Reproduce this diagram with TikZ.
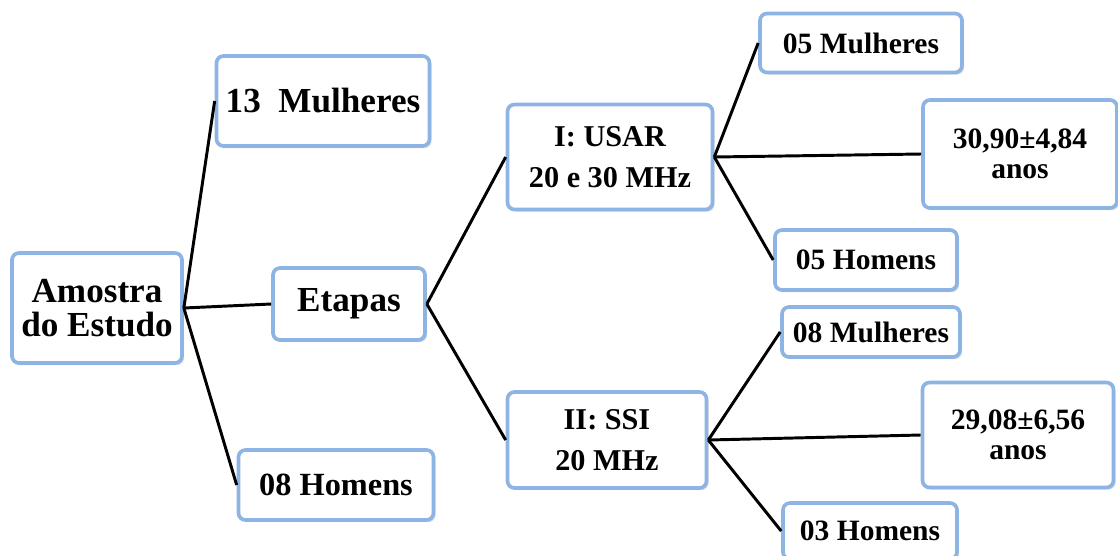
\documentclass[tikz,border=0pt]{standalone}
\usepackage{fontspec}
\setmainfont{Liberation Serif}
\usetikzlibrary{shadows}
\definecolor{boxblue}{RGB}{141,180,226}
\tikzset{
  caixa/.style={rectangle, draw=boxblue, line width=2.6pt, fill=white, rounded corners=5pt,
    align=center, inner sep=0pt, drop shadow={shadow xshift=1.5pt, shadow yshift=-1.5pt, fill=gray!50}},
  ramo/.style={line width=2.1pt}
}
\begin{document}
\begin{tikzpicture}[x=0.025cm, y=-0.025cm]
    \useasboundingbox (0,0) rectangle (1118,555);

    % ノード
    \node[caixa, minimum width=170*0.025cm, minimum height=110*0.025cm, font=\bfseries\fontsize{25}{24}\selectfont] (amostra) at (97,308) {Amostra\\do Estudo};
    \node[caixa, minimum width=213*0.025cm, minimum height=90*0.025cm, font=\bfseries\fontsize{25}{28}\selectfont] (mulheres) at (323,101) {13~~Mulheres};
    \node[caixa, minimum width=152*0.025cm, minimum height=72*0.025cm, font=\bfseries\fontsize{25}{28}\selectfont] (etapas) at (349,304) {Etapas};
    \node[caixa, minimum width=195*0.025cm, minimum height=70*0.025cm, font=\bfseries\fontsize{23}{28}\selectfont] (homens) at (336,485) {08 Homens};

    \node[caixa, minimum width=205*0.025cm, minimum height=105*0.025cm, font=\bfseries\fontsize{21.5}{29}\selectfont] (usar) at (610,157) {I: USAR\\20 e 30 MHz};
    \node[caixa, minimum width=199*0.025cm, minimum height=96*0.025cm, font=\bfseries\fontsize{21.5}{29}\selectfont] (ssi) at (607,440) {II: SSI\\20 MHz};

    \node[caixa, minimum width=202*0.025cm, minimum height=59*0.025cm, font=\bfseries\fontsize{21}{25}\selectfont] (usarm) at (861,43) {05 Mulheres};
    \node[caixa, minimum width=194*0.025cm, minimum height=108*0.025cm, font=\bfseries\fontsize{21}{21}\selectfont] (usari) at (1020,154) {30,90±4,84\\anos};
    \node[caixa, minimum width=182*0.025cm, minimum height=60*0.025cm, font=\bfseries\fontsize{21}{25}\selectfont] (usarh) at (866,260) {05 Homens};

    \node[caixa, minimum width=178*0.025cm, minimum height=50*0.025cm, font=\bfseries\fontsize{21}{25}\selectfont] (ssim) at (871,332) {08 Mulheres};
    \node[caixa, minimum width=191*0.025cm, minimum height=105*0.025cm, font=\bfseries\fontsize{21}{21}\selectfont] (ssii) at (1018,435) {29,08±6,56\\anos};
    \node[caixa, minimum width=174*0.025cm, minimum height=56*0.025cm, font=\bfseries\fontsize{21}{25}\selectfont] (ssih) at (870,531) {03 Homens};

    % 枝
    \draw[ramo] (amostra.east) -- (mulheres.west);
    \draw[ramo] (amostra.east) -- (etapas.west);
    \draw[ramo] (amostra.east) -- (homens.west);
    \draw[ramo] (etapas.east) -- (usar.west);
    \draw[ramo] (etapas.east) -- (ssi.west);
    \draw[ramo] (usar.east) -- (usarm.west);
    \draw[ramo] (usar.east) -- (usari.west);
    \draw[ramo] (usar.east) -- (usarh.west);
    \draw[ramo] (ssi.east) -- (ssim.west);
    \draw[ramo] (ssi.east) -- (ssii.west);
    \draw[ramo] (ssi.east) -- (ssih.west);
\end{tikzpicture}
\end{document}
